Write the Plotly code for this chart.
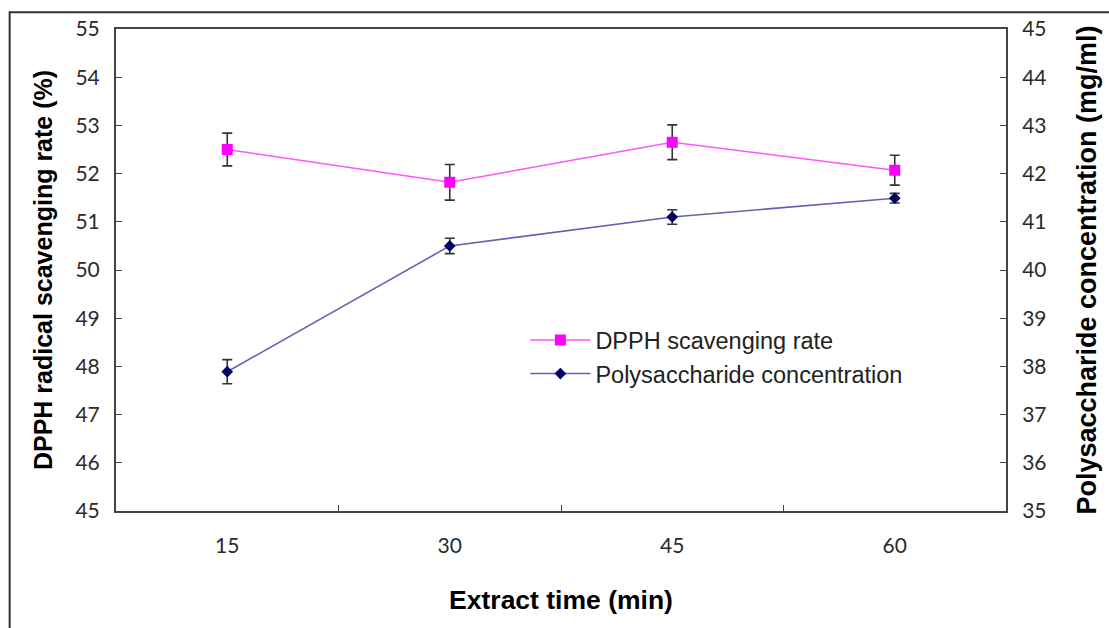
import plotly.graph_objects as go

categories = ["15", "30", "45", "60"]
dpph_rate = [52.50, 51.82, 52.65, 52.07]
dpph_err = [0.34, 0.37, 0.36, 0.31]
poly_conc = [37.89, 40.50, 41.10, 41.49]
poly_err = [0.25, 0.16, 0.15, 0.10]

fig = go.Figure()
fig.add_trace(go.Scatter(
    x=categories, y=dpph_rate, name="DPPH scavenging rate",
    mode="lines+markers",
    line=dict(color="#ff55ff", width=1.6),
    marker=dict(color="#ff00ff", size=11, symbol="square"),
    error_y=dict(type="data", array=dpph_err, color="#333333", thickness=1.6, width=5),
))
fig.add_trace(go.Scatter(
    x=categories, y=poly_conc, name="Polysaccharide concentration",
    mode="lines+markers", yaxis="y2",
    line=dict(color="#6262b0", width=1.6),
    marker=dict(color="#000066", size=9, symbol="diamond"),
    error_y=dict(type="data", array=poly_err, color="#333333", thickness=1.6, width=5),
))

tickfont = dict(family="Lato, sans-serif", size=21, color="#2a2a2a")
titlefont_l = dict(family="Liberation Sans, Arial, sans-serif", size=25, color="#000000", weight="bold")
titlefont_r = dict(family="Liberation Sans, Arial, sans-serif", size=27, color="#000000", weight="bold")
titlefont_x = dict(family="Liberation Sans, Arial, sans-serif", size=26.5, color="#000000", weight="bold")

fig.update_layout(
    width=1109, height=628,
    margin=dict(l=116, r=101, t=29, b=117),
    paper_bgcolor="white", plot_bgcolor="white",
    showlegend=True,
    legend=dict(x=0.46, y=0.40, xanchor="left", yanchor="top",
                font=dict(family="Liberation Sans, Arial, sans-serif", size=23.5, color="#222222"),
                bgcolor="rgba(0,0,0,0)", tracegroupgap=14, itemwidth=60),
    xaxis=dict(
        type="category", range=[-0.5, 3.5],
        showline=True, linecolor="#444444", linewidth=2, mirror=True,
        ticks="inside", tickson="boundaries", ticklen=6, tickcolor="#444444",
        tickfont=tickfont, showgrid=False, zeroline=False, ticklabelstandoff=15,
        title=dict(text="Extract time (min)", font=titlefont_x, standoff=34),
    ),
    yaxis=dict(
        range=[45, 55], dtick=1,
        showline=True, linecolor="#444444", linewidth=2,
        ticks="inside", ticklen=6, tickcolor="#444444", ticklabelstandoff=10,
        tickfont=tickfont, showgrid=False, zeroline=False,
        title=dict(text="DPPH radical scavenging rate (%)", font=titlefont_l, standoff=16),
    ),
    yaxis2=dict(
        range=[35, 45], dtick=1, overlaying="y", side="right",
        showline=True, linecolor="#444444", linewidth=2,
        ticks="inside", ticklen=6, tickcolor="#444444", ticklabelstandoff=10,
        tickfont=tickfont, showgrid=False, zeroline=False,
        title=dict(text="Polysaccharide concentration (mg/ml)", font=titlefont_r, standoff=32),
    ),
)

# outer frame of the original figure
fig.add_shape(type="rect", xref="paper", yref="paper",
              x0=-0.1195, x1=1.2, y0=-0.3, y1=1.035,
              line=dict(color="#333333", width=2), layer="below")

fig.write_html("out.html")
